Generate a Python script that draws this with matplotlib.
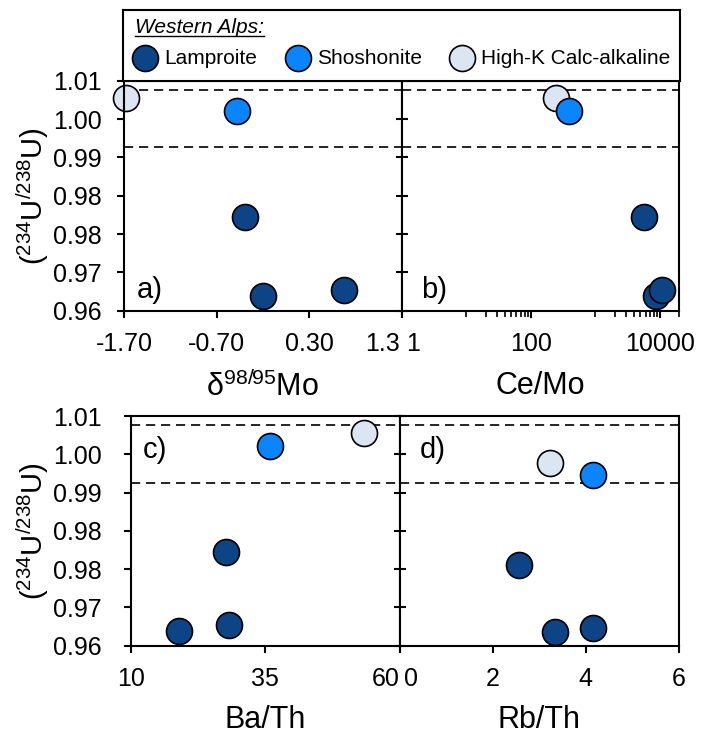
import numpy as np
import matplotlib
matplotlib.use("Agg")
import matplotlib.pyplot as plt
from matplotlib.lines import Line2D
from matplotlib.ticker import NullFormatter

plt.rcParams['font.family'] = ['Liberation Sans', 'DejaVu Sans']
plt.rcParams['mathtext.fontset'] = 'custom'
plt.rcParams['mathtext.rm'] = 'Liberation Sans'
plt.rcParams['mathtext.it'] = 'Liberation Sans:italic'

# groups and colours
groups = ['Lamproite', 'Shoshonite', 'High-K Calc-alkaline']
colors = ['#0D4486', '#0A84FF', '#DCE6F2']

# (234U/238U) activity ratios
u_lamp = [0.9804, 0.9632, 0.9645]
u_shos = [1.0034]
u_hk = [1.0062]
u_lamp_d = [0.9776, 0.9629, 0.9639]
u_shos_d = [0.9972]
u_hk_d = [0.9997]

# d98/95Mo
mo_lamp = [-0.39, -0.20, 0.68]
mo_shos = [-0.48]
mo_hk = [-1.68]
# Ce/Mo
cemo_lamp = [5760, 8730, 10800]
cemo_shos = [385]
cemo_hk = [249]
# Ba/Th
bath_lamp = [27.7, 19.0, 28.3]
bath_shos = [35.9]
bath_hk = [53.3]
# Rb/Th
rbth_lamp = [2.56, 3.35, 4.16]
rbth_shos = [4.16]
rbth_hk = [3.23]

# secular equilibrium band
eq_lo, eq_hi = 0.9955, 1.008

yticks = np.linspace(0.96, 1.01, 7)
ytick_labels = ['0.96', '0.97', '0.98', '0.98', '0.99', '1.00', '1.01']

W, H = 713, 734
fig = plt.figure(figsize=(W / 100, H / 100), dpi=100)


def px_axes(x0, y0, x1, y1):
    # pixel box (top-left origin) -> figure axes
    return fig.add_axes([x0 / W, 1 - y1 / H, (x1 - x0) / W, (y1 - y0) / H])


ax_a = px_axes(124, 80.7, 401.7, 310.7)
ax_b = px_axes(401.7, 80.7, 679.3, 310.7)
ax_c = px_axes(131, 416, 399.5, 645.7)
ax_d = px_axes(399.5, 416, 678.7, 645.7)

panels = [
    (ax_a, mo_lamp, mo_shos, mo_hk, u_lamp, u_shos, u_hk),
    (ax_b, cemo_lamp, cemo_shos, cemo_hk, u_lamp, u_shos, u_hk),
    (ax_c, bath_lamp, bath_shos, bath_hk, u_lamp, u_shos, u_hk),
    (ax_d, rbth_lamp, rbth_shos, rbth_hk, u_lamp_d, u_shos_d, u_hk_d),
]

XPAD = 10
TICK = 5
handles = []
for ax, xl, xs, xh, yl, ys, yh in panels:
    ax.axhline(eq_lo, color='black', lw=1.2, ls=(0, (5.5, 3.5)), zorder=1)
    ax.axhline(eq_hi, color='black', lw=1.2, ls=(0, (5.5, 3.5)), zorder=1)
    h3 = ax.scatter(xh, yh, s=350, c=colors[2], edgecolors='black', linewidths=1.2, zorder=3, clip_on=False)
    h2 = ax.scatter(xs, ys, s=350, c=colors[1], edgecolors='black', linewidths=1.2, zorder=4, clip_on=False)
    h1 = ax.scatter(xl, yl, s=350, c=colors[0], edgecolors='black', linewidths=1.2, zorder=5, clip_on=False)
    handles = [h1, h2, h3]
    ax.set_ylim(0.96, 1.01)
    ax.set_yticks(yticks)
    for sp in ax.spines.values():
        sp.set_linewidth(1.5)
        sp.set_zorder(6)
    ax.tick_params(axis='both', labelsize=18, width=1.5, length=TICK, color='black')
    ax.tick_params(axis='x', pad=XPAD)

# left panels: labels on the left
ax_a.set_yticklabels(ytick_labels)
ax_a.tick_params(axis='y', pad=11)
ax_c.set_yticklabels(ytick_labels)
ax_c.tick_params(axis='y', pad=16)
# right panels: ticks crossing the shared spine
for ax in (ax_b, ax_d):
    ax.tick_params(axis='y', direction='inout', length=8, labelleft=False)

# a) d98/95Mo
ax_a.set_xlim(-1.7, 1.3)
ax_a.set_xticks([-1.7, -0.7, 0.3, 1.3])
ax_a.set_xticklabels(['-1.70', '-0.70', '0.30', ''])
ax_a.set_xlabel(r'δ$^{98/95}$Mo', fontsize=22)

# b) Ce/Mo
ax_b.set_xscale('log')
ax_b.set_xlim(1, 20000)
ax_b.set_xticks([1, 100, 10000])
ax_b.set_xticklabels(['', '100', '10000'])
ax_b.set_xticks(list(range(10, 101, 10)) + list(range(1000, 10001, 1000)) + [20000], minor=True)
ax_b.xaxis.set_minor_formatter(NullFormatter())
ax_b.tick_params(axis='x', which='minor', length=4, width=1.2)
ax_b.set_xlabel('Ce/Mo', fontsize=22)

# c) Ba/Th
ax_c.set_xlim(10, 60)
ax_c.set_xticks([10, 35, 60])
ax_c.set_xticklabels(['10', '35', ''])
ax_c.set_xlabel('Ba/Th', fontsize=22)

# d) Rb/Th
ax_d.set_xlim(0, 6)
ax_d.set_xticks([0, 2, 4, 6])
ax_d.set_xticklabels(['', '2', '4', '6'])
ax_d.set_xlabel('Rb/Th', fontsize=22)

# end labels that meet at the shared spine, nudged apart
edge_labels = [(ax_a, '1.3', 1, 'right', -1.5), (ax_b, '1', 0, 'left', 3.5),
               (ax_c, '60', 1, 'right', 0), (ax_d, '0', 0, 'left', 3)]
for ax, txt, xf, ha, dx in edge_labels:
    ax.annotate(txt, xy=(xf, 0), xycoords='axes fraction', xytext=(dx, -(TICK + XPAD)),
                textcoords='offset points', ha=ha, va='top', fontsize=18)

for ax in (ax_a, ax_b, ax_c, ax_d):
    ax.xaxis.set_label_coords(0.5, -0.26)

ylab = r'($^{234}$U$^{/238}$U)'
ax_a.set_ylabel(ylab, fontsize=21)
ax_a.yaxis.set_label_coords(-0.262, 0.5)
ax_c.set_ylabel(ylab, fontsize=21)
ax_c.yaxis.set_label_coords(-0.297, 0.5)

# panel tags
ax_a.text(0.047, 0.03, 'a)', transform=ax_a.transAxes, fontsize=21, va='bottom')
ax_b.text(0.07, 0.03, 'b)', transform=ax_b.transAxes, fontsize=21, va='bottom')
ax_c.text(0.045, 0.915, 'c)', transform=ax_c.transAxes, fontsize=21, va='top')
ax_d.text(0.073, 0.915, 'd)', transform=ax_d.transAxes, fontsize=21, va='top')

# legend box
ax_leg = px_axes(122.7, 10, 680, 80.7)
ax_leg.set_xticks([])
ax_leg.set_yticks([])
for sp in ax_leg.spines.values():
    sp.set_linewidth(1.5)
title = ax_leg.text(0.022, 0.67, 'Western Alps:', transform=ax_leg.transAxes,
                    fontsize=15, style='italic', va='baseline')
ax_leg.legend(handles, groups, loc='center left', bbox_to_anchor=(0.01, 0.317), ncol=3,
              frameon=False, fontsize=15, handlelength=1.65, handletextpad=0.1,
              columnspacing=1.1, borderpad=0, borderaxespad=0, markerscale=1.0)

fig.canvas.draw()
bb = title.get_window_extent().transformed(fig.transFigure.inverted())
base_y = 1 - (10 + 70.7 * 0.33) / H - 2.5 / H
fig.add_artist(Line2D([bb.x0, bb.x1], [base_y, base_y], transform=fig.transFigure,
                      color='black', lw=1.0))

fig.savefig('out.png', dpi=100)
